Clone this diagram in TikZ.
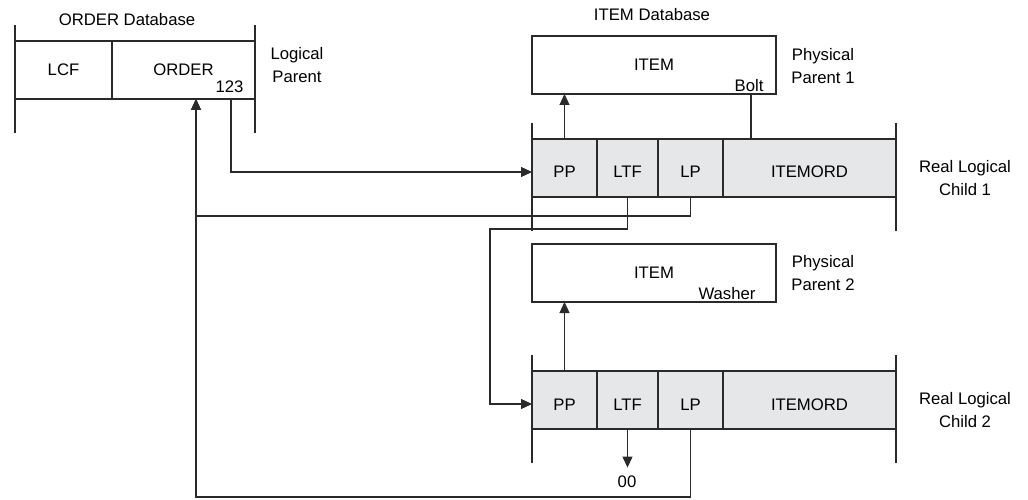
\documentclass[tikz,border=0pt]{standalone}
\usepackage{fontspec}
\setmainfont{Liberation Sans}
\usetikzlibrary{arrows.meta,positioning}
\definecolor{cellgray}{HTML}{E6E7E8}
\definecolor{linegray}{HTML}{2A2A2A}

\begin{document}
\begin{tikzpicture}[
x=1pt, y=-1pt,
font=\fontsize{16.7}{23}\selectfont,
box/.style={
draw=linegray,
line width=1.2pt,
rectangle,
minimum height=58pt,
inner sep=0pt,
outer sep=0pt,
anchor=north west
},
cell/.style={
box,
fill=cellgray,
text height=20pt,
text depth=0pt
},
tag/.style={
align=center
},
link/.style={
draw=linegray,
line width=1.2pt
},
arrow/.style={
link,
-{Triangle[length=11pt,width=10pt]}
}
]

\useasboundingbox (0,0) rectangle (1028,500);

% ORDER database
\node (orderdb) at (127,20) {ORDER Database};
\node (lcf) [box, minimum width=97pt] at (15,41) {LCF};
\node (ordr) [box, minimum width=143pt, right=0pt of lcf] {ORDER};
\node (num) [anchor=base east] at ([xshift=-8pt,yshift=6pt]ordr.south east) {123};
\node (logpar) [tag] at (297,65) {Logical\\Parent};

% ITEM database
\node (itemdb) at (652,15) {ITEM Database};
\node (item1) [box, minimum width=244pt] at (532,36) {ITEM};
\node (bolt) [anchor=base east] at ([xshift=-9pt,yshift=2pt]item1.south east) {Bolt};
\node (phys1) [tag] at (823,66) {Physical\\Parent 1};

\node (pp1) [cell, minimum width=65pt] at (532,139) {PP};
\node (ltf1) [cell, minimum width=61pt, right=0pt of pp1] {LTF};
\node (lp1) [cell, minimum width=65pt, right=0pt of ltf1] {LP};
\node (ord1) [cell, minimum width=173pt, right=0pt of lp1] {ITEMORD};
\node (child1) [tag] at (965,178) {Real Logical\\Child 1};

\node (item2) [box, minimum width=244pt] at (532,244) {ITEM};
\node (washer) [anchor=base east] at ([xshift=-17pt,yshift=3pt]item2.south east) {Washer};
\node (phys2) [tag] at (823,273) {Physical\\Parent 2};

\node (pp2) [cell, minimum width=65pt] at (532,371) {PP};
\node (ltf2) [cell, minimum width=61pt, right=0pt of pp2] {LTF};
\node (lp2) [cell, minimum width=65pt, right=0pt of ltf2] {LP};
\node (ord2) [cell, minimum width=173pt, right=0pt of lp2] {ITEMORD};
\node (child2) [tag] at (965,410) {Real Logical\\Child 2};

\node (zero) at (627,482) {00};

\coordinate (ordin) at (196,99);
\coordinate (numout) at (231,99);

% segment boundaries
\draw[link] (lcf.north west) ++(0,-16) -- ++(0,108);
\draw[link] (ordr.north east) ++(0,-16) -- ++(0,108);
\draw[link] (pp1.north west) ++(0,-16) -- ++(0,108);
\draw[link] (ord1.north east) ++(0,-16) -- ++(0,108);
\draw[link] (pp2.north west) ++(0,-16) -- ++(0,108);
\draw[link] (ord2.north east) ++(0,-16) -- ++(0,108);

% pointers
\draw[arrow] (numout) |- ([yshift=-4pt]pp1.west);
\draw[arrow] (lp1.south) -- ++(0,19) -| (ordin);
\draw[arrow] (lp2.south) -- ++(0,68) -| (ordin);
\draw[arrow] (ltf1.south) -- ++(0,32) -| ([xshift=-42pt,yshift=-4pt]pp2.west) -- ([yshift=-4pt]pp2.west);
\draw[arrow] (pp1.north) -- (pp1.north |- item1.south);
\draw[link] ([xshift=28pt]ord1.north west) -- ([xshift=-25pt]item1.south east);
\draw[arrow] (pp2.north) -- (pp2.north |- item2.south);
\draw[arrow] (ltf2.south) -- ([yshift=5pt]ltf2.south |- zero.north);

\end{tikzpicture}
\end{document}
